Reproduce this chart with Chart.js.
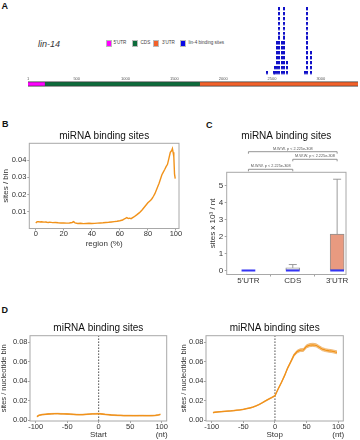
<!DOCTYPE html>
<html><head><meta charset="utf-8">
<script src="https://cdn.jsdelivr.net/npm/chart.js@4.4.1/dist/chart.umd.min.js"></script>
<style>
html,body{margin:0;padding:0;background:#fff;}
body{width:360px;height:440px;position:relative;overflow:hidden;font-family:'Liberation Sans',Arial,sans-serif;}
canvas{position:absolute;}
.lbl{position:absolute;white-space:nowrap;line-height:1;}
.panel{font-weight:bold;font-size:9px;color:#111;}
.leg{position:absolute;font-size:4.6px;color:#444;line-height:1;white-space:nowrap;}
.sw{position:absolute;width:6px;height:7px;box-sizing:border-box;border:0.6px solid #bbb;}
</style></head><body>
<div class="lbl panel" style="left:1.5px;top:2px">A</div>
<div class="lbl" style="left:38px;top:39.5px;font-size:9px;font-style:italic;color:#333">lin-14</div>
<div class="sw" style="left:106px;top:40px;background:#FF00FF"></div>
<div class="leg" style="left:113.5px;top:41.3px">5'UTR</div>
<div class="sw" style="left:131.7px;top:40px;background:#0D6B3B"></div>
<div class="leg" style="left:140.5px;top:41.3px">CDS</div>
<div class="sw" style="left:153.3px;top:40px;background:#F2612A"></div>
<div class="leg" style="left:162px;top:41.3px">3'UTR</div>
<div class="sw" style="left:180px;top:40px;background:#0A0AE6"></div>
<div class="leg" style="left:188.5px;top:41.3px">lin-4 binding sites</div>
<div class="lbl panel" style="left:2px;top:120px">B</div>
<div class="lbl panel" style="left:206px;top:121px">C</div>
<div class="lbl panel" style="left:1.5px;top:306px">D</div>

<canvas id="a1" width="360" height="82" style="left:0;top:0"></canvas>
<canvas id="a2" width="360" height="10" style="left:0;top:79px"></canvas>
<canvas id="b" width="200" height="140" style="left:0;top:110px"></canvas>
<canvas id="c" width="180" height="180" style="left:180px;top:110px"></canvas>
<canvas id="d1" width="180" height="155" style="left:0;top:285px"></canvas>
<canvas id="d2" width="180" height="155" style="left:180px;top:285px"></canvas>
<script>
// ---------------- DATA ----------------
// Panel A: lin-14 transcript
const geneTicks = [1, 500, 1000, 1500, 2000, 2500, 3000];
const geneLength = 3350;
const regionNames = ["5'UTR", "CDS", "3'UTR"];
const regionStart = [1, 172, 1745];
const regionEnd = [172, 1745, 3350];
const siteColumns = [2450, 2518, 2535, 2551, 2568, 2605, 2619, 2653, 2835, 2856, 2896];
const siteCounts  = [1,    1,    2,    7,    14,   7,    14,   3,    1,    14,   5];

// Panel B: binding sites along the transcript
const regionPct = [0,1,2,3,4,5,6,7,8,9,10,12,14,16,18,20,22,24,26,27,28,30,32,34,36,38,40,42,44,46,48,50,52,54,56,58,60,62,63,64,65,66,67,68,70,72,74,76,78,80,81,82,83,84,85,86,87,88,89,90,91,92,93,94,95,96,97,97.5,98,98.5,99,99.5];
const sitesPerBin = [0.0035,0.0042,0.0043,0.0041,0.0042,0.0041,0.0040,0.0041,0.0039,0.0038,0.0040,0.0037,0.0038,0.0036,0.0035,0.0035,0.0034,0.0035,0.0038,0.0043,0.0036,0.0032,0.0033,0.0031,0.0032,0.0033,0.0032,0.0033,0.0034,0.0035,0.0036,0.0038,0.0039,0.0041,0.0043,0.0045,0.0048,0.0052,0.0058,0.0062,0.0066,0.0061,0.0063,0.0060,0.0070,0.0082,0.0095,0.0112,0.0132,0.0152,0.0160,0.0167,0.0177,0.0190,0.0205,0.0225,0.0245,0.0265,0.0290,0.0315,0.0330,0.0345,0.0362,0.0375,0.0410,0.0445,0.0455,0.0466,0.0445,0.0420,0.0320,0.0292];

// Panel C: box plot summary
const boxCats   = ["5'UTR", "CDS", "3'UTR"];
const boxLow    = [0, 0, 0];
const boxQ1     = [0, 0, 0];
const boxMedian = [0, 0, 0];
const boxQ3     = [0, 0.15, 2.15];
const boxHigh   = [0, 0.35, 5.4];
const mwwPairs  = [[1, 3], [2, 3], [1, 2]];
const mwwLabel  = 'M.W.W. p < 2.225e-308';

// Panel D: metagene around start / stop codon
const metaPos    = [-98,-95,-90,-85,-80,-75,-70,-65,-60,-55,-50,-45,-40,-35,-30,-25,-20,-15,-10,-5,0,5,10,15,20,25,30,35,40,45,50,55,60,65,70,75,80,85,90,95,98];
const startSites = [0.0035,0.0048,0.0056,0.0059,0.0062,0.0064,0.0065,0.0066,0.0064,0.0063,0.0062,0.0060,0.0058,0.0056,0.0055,0.0056,0.0059,0.0061,0.0063,0.0064,0.0066,0.0062,0.0058,0.0055,0.0052,0.0050,0.0048,0.0047,0.0046,0.0046,0.0046,0.0045,0.0045,0.0046,0.0046,0.0045,0.0045,0.0046,0.0047,0.0052,0.0058];
const startSE    = [0.0004,0.0004,0.0004,0.0004,0.0004,0.0004,0.0004,0.0004,0.0004,0.0004,0.0004,0.0004,0.0004,0.0004,0.0004,0.0004,0.0004,0.0004,0.0004,0.0004,0.0004,0.0004,0.0004,0.0004,0.0004,0.0004,0.0004,0.0004,0.0004,0.0004,0.0004,0.0004,0.0004,0.0004,0.0004,0.0004,0.0004,0.0004,0.0004,0.0004,0.0004];
const stopSites  = [0.0077,0.0080,0.0083,0.0086,0.0089,0.0092,0.0094,0.0097,0.0101,0.0105,0.0110,0.0117,0.0124,0.0133,0.0145,0.0160,0.0178,0.0197,0.0215,0.0232,0.0250,0.0320,0.0385,0.0455,0.0535,0.0600,0.0668,0.0705,0.0720,0.0722,0.0760,0.0772,0.0775,0.0770,0.0750,0.0730,0.0720,0.0714,0.0710,0.0702,0.0698];
const stopSE     = [0.0003,0.0003,0.0003,0.0003,0.0003,0.0003,0.0003,0.0003,0.0003,0.0003,0.0003,0.0003,0.0003,0.0003,0.0003,0.0004,0.0004,0.0004,0.0004,0.0005,0.0005,0.0005,0.0006,0.0006,0.0007,0.0009,0.0012,0.0014,0.0015,0.0015,0.0016,0.0016,0.0016,0.0016,0.0016,0.0016,0.0015,0.0015,0.0015,0.0015,0.0015];

// ---------------- STYLE ----------------
const regionColors = ['#FF00FF', '#0D6B3B', '#F2612A'];
const ORANGE = '#F1921A';
Chart.defaults.font.family = "'Liberation Sans', Arial, sans-serif";
Chart.defaults.color = '#333';
Chart.defaults.animation = false;
Chart.defaults.plugins.legend.display = false;
Chart.defaults.plugins.tooltip.enabled = false;

const fixW = w => s => { s.width = w; };
const fixH = h => s => { s.height = h; };
const tickGrid = {display: true, drawOnChartArea: false, drawTicks: true, tickLength: 2, color: '#8a8a8a', lineWidth: 0.8};
const frame = {id: 'frame', afterDatasetsDraw(chart) {
  const {ctx, chartArea: a} = chart;
  ctx.save(); ctx.strokeStyle = '#a8a8a8'; ctx.lineWidth = 1;
  ctx.strokeRect(a.left, a.top, a.right - a.left, a.bottom - a.top);
  ctx.restore();
}};
const titleOpt = (pt, pb) => ({display: true, text: 'miRNA binding sites', fullSize: false, color: '#111',
  font: {size: 10, weight: 'normal', lineHeight: 1.2}, padding: {top: pt, bottom: pb}});

// ---------------- PANEL A ----------------
const sq = document.createElement('canvas'); sq.width = 2; sq.height = 4;
const sctx = sq.getContext('2d'); sctx.fillStyle = '#1010C8'; sctx.fillRect(0, 0, 2, 3.3);
const sitePoints = [];
siteColumns.forEach((x, i) => { for (let k = 1; k <= siteCounts[i]; k++) sitePoints.push({x, y: k}); });

new Chart(document.getElementById('a1'), {
  type: 'scatter',
  data: {datasets: [{data: sitePoints, pointStyle: sq, pointRadius: 2}]},
  options: {responsive: false, layout: {padding: {left: 28, right: 2, top: 5.7, bottom: 0}},
    scales: {
      x: {type: 'linear', min: 1, max: geneLength, afterFit: fixH(6.8),
        afterBuildTicks: s => { s.ticks = geneTicks.map(v => ({value: v})); },
        grid: {display: false, drawTicks: false}, border: {display: false},
        ticks: {font: {size: 4}, color: '#555', padding: 1, maxRotation: 0, autoSkip: false, callback: v => String(v)}},
      y: {display: false, min: 0.5, max: 14.68}
    }}
});

const geneSets = regionNames.map((n, i) => ({label: n, data: [{x: regionStart[i], y: 0}, {x: regionEnd[i], y: 0}],
  borderColor: regionColors[i], borderWidth: 3.4, pointRadius: 0, borderCapStyle: 'butt'}));
geneSets.push({label: 'outline', data: [{x: regionStart[0], y: 0}, {x: regionEnd[2], y: 0}],
  borderColor: '#3a3a3a', borderWidth: 5, pointRadius: 0, borderCapStyle: 'butt'});
new Chart(document.getElementById('a2'), {
  type: 'line',
  data: {datasets: geneSets},
  options: {responsive: false, layout: {padding: {left: 28, right: 2, top: 0, bottom: 0}},
    scales: {x: {type: 'linear', display: false, min: 1, max: geneLength}, y: {display: false, min: -1, max: 1}}}
});

// ---------------- PANEL B ----------------
new Chart(document.getElementById('b'), {
  type: 'line',
  data: {datasets: [{data: regionPct.map((x, i) => ({x, y: sitesPerBin[i]})), borderColor: ORANGE, borderWidth: 1.4, pointRadius: 0, tension: 0}]},
  options: {responsive: false, layout: {padding: {left: 0, right: 21, top: 0, bottom: 1.5}},
    plugins: {title: titleOpt(20, 1.3)},
    scales: {
      x: {type: 'linear', min: -4.6, max: 102.2, afterFit: fixH(20), grid: tickGrid, border: {display: false},
        ticks: {stepSize: 20, includeBounds: false, font: {size: 7.5, lineHeight: 1}, padding: 0, maxRotation: 0},
        title: {display: true, text: 'region (%)', font: {size: 8}, padding: {top: 0, bottom: 0.4}}},
      y: {min: 0.0003, max: 0.0497, afterFit: fixW(29.3), grid: tickGrid, border: {display: false},
        ticks: {stepSize: 0.01, includeBounds: false, font: {size: 7.5}, padding: 1, callback: v => v.toFixed(2)},
        title: {display: true, text: 'sites / bin', font: {size: 8}, padding: {top: 1.2, bottom: 0}}}
    }},
  plugins: [frame]
});

// ---------------- PANEL C ----------------
const boxBars = boxCats.map((c, i) => ({x: i + 1, y: [boxQ1[i], boxQ3[i]]}));
const whisk = [], caps = [], meds = [];
boxCats.forEach((c, i) => {
  const x = i + 1;
  whisk.push({x, y: boxQ3[i]}, {x, y: boxHigh[i]}, {x, y: null}, {x, y: boxQ1[i]}, {x, y: boxLow[i]}, {x, y: null});
  caps.push({x: x - 0.09, y: boxHigh[i]}, {x: x + 0.09, y: boxHigh[i]}, {x, y: null});
  meds.push({x: x - 0.155, y: boxMedian[i]}, {x: x + 0.155, y: boxMedian[i]}, {x, y: null});
});
const mww = {id: 'mww', afterDraw(chart) {
  const {ctx, chartArea, scales: {x}} = chart;
  const levels = [20.6, 13, 3];
  ctx.save(); ctx.strokeStyle = '#7a7a7a'; ctx.lineWidth = 0.8; ctx.fillStyle = '#555';
  ctx.font = "3.8px 'Liberation Sans', Arial"; ctx.textAlign = 'center'; ctx.textBaseline = 'bottom';
  mwwPairs.forEach((p, i) => {
    const x1 = x.getPixelForValue(p[0]), x2 = x.getPixelForValue(p[1]);
    const y = chartArea.top - levels[i];
    ctx.beginPath(); ctx.moveTo(x1, y + 2); ctx.lineTo(x1, y); ctx.lineTo(x2, y); ctx.lineTo(x2, y + 2); ctx.stroke();
    ctx.fillText(mwwLabel, (x1 + x2) / 2, y - 1);
  });
  ctx.restore();
}};
new Chart(document.getElementById('c'), {
  type: 'bar',
  data: {datasets: [
    {type: 'line', data: meds, borderColor: '#3535F5', borderWidth: 2, pointRadius: 0, spanGaps: false, borderCapStyle: 'butt'},
    {type: 'line', data: caps, borderColor: '#909090', borderWidth: 0.9, pointRadius: 0, spanGaps: false},
    {type: 'line', data: whisk, borderColor: '#909090', borderWidth: 0.9, pointRadius: 0, spanGaps: false},
    {type: 'bar', data: boxBars, backgroundColor: ['#ffffff', '#ffffff', '#E89A80'], borderColor: '#8f8f8f', borderWidth: 0.9, borderSkipped: false, barThickness: 14}
  ]},
  options: {responsive: false, layout: {padding: {left: 0, right: 14, top: 0, bottom: 0}},
    plugins: {title: titleOpt(20.7, 29.6)},
    scales: {
      x: {type: 'linear', offset: false, min: 0.51, max: 3.2, afterFit: fixH(15.5), grid: tickGrid, border: {display: false},
        afterBuildTicks: s => { s.ticks = boxCats.map((c, i) => ({value: i + 1})); },
        ticks: {font: {size: 8, lineHeight: 1}, padding: 0, maxRotation: 0, autoSkip: false, callback: v => boxCats[Math.round(v) - 1]}},
      y: {min: -0.24, max: 5.81, afterFit: fixW(46.7), grid: tickGrid, border: {display: false},
        ticks: {stepSize: 1, includeBounds: false, font: {size: 8}, padding: 1.5},
        title: {display: true, text: 'sites x 10³ / nt', font: {size: 8}, padding: {top: 27.7, bottom: 0}}}
    }},
  plugins: [frame, mww]
});

// ---------------- PANEL D ----------------
function metaChart(id, vals, se, xTitle, yW, padR, yTitlePad) {
  const nt = {id: 'nt', afterDraw(chart) {
    const {ctx, chartArea, scales: {x}} = chart;
    ctx.save(); ctx.fillStyle = '#333'; ctx.font = "8px 'Liberation Sans', Arial"; ctx.textAlign = 'center'; ctx.textBaseline = 'middle';
    ctx.fillText('(nt)', x.getPixelForValue(100), chartArea.bottom + 14);
    ctx.restore();
  }};
  new Chart(document.getElementById(id), {
    type: 'line',
    data: {datasets: [
      {data: metaPos.map((x, i) => ({x, y: vals[i]})), borderColor: ORANGE, borderWidth: 1.3, pointRadius: 0},
      {data: metaPos.map((x, i) => ({x, y: vals[i] + se[i]})), borderColor: 'rgba(225,140,40,0.75)', borderWidth: 0.7, pointRadius: 0},
      {data: metaPos.map((x, i) => ({x, y: vals[i] - se[i]})), borderColor: 'rgba(225,140,40,0.75)', borderWidth: 0.7, pointRadius: 0,
        fill: '-1', backgroundColor: 'rgba(249,200,130,0.75)'},
      {data: [{x: 0, y: -0.001}, {x: 0, y: 0.0869}], borderColor: '#444', borderWidth: 0.9, borderDash: [1.6, 1.4], pointRadius: 0}
    ]},
    options: {responsive: false, layout: {padding: {left: 0, right: padR, top: 0, bottom: 0.2}},
      plugins: {title: titleOpt(37.3, 1.4)},
      scales: {
        x: {type: 'linear', min: -109, max: 108, afterFit: fixH(18.8), grid: tickGrid, border: {display: false},
          ticks: {stepSize: 50, includeBounds: false, font: {size: 7.5, lineHeight: 1}, padding: 0, maxRotation: 0},
          title: {display: true, text: xTitle, font: {size: 8}, padding: {top: 0, bottom: 0}}},
        y: {min: -0.001, max: 0.0869, afterFit: fixW(yW), grid: tickGrid, border: {display: false},
          ticks: {stepSize: 0.02, includeBounds: false, font: {size: 7.5}, padding: 0.5, callback: v => v.toFixed(2)},
          title: {display: true, text: 'sites / nucleotide bin', font: {size: 7.5, lineHeight: 1}, padding: {top: yTitlePad, bottom: 0}}}
      }},
    plugins: [frame, nt]
  });
}
metaChart('d1', startSites, startSE, 'Start', 30, 13.3, 0.45);
metaChart('d2', stopSites, stopSE, 'Stop', 26, 16.7, 0);
</script>
</body></html>
